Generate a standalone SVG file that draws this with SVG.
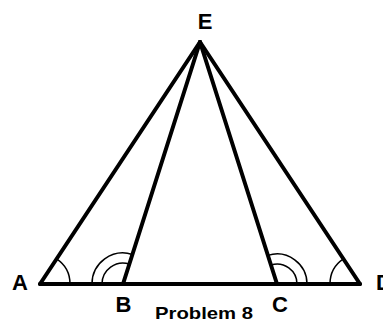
<svg xmlns="http://www.w3.org/2000/svg" width="383" height="322" viewBox="0 0 383 322">
<style>
.ln{stroke:#000;stroke-width:4;stroke-linecap:round;fill:none}
.arc{stroke:#000;stroke-width:1.5;fill:none}
.lbl{font-family:"Liberation Sans",Arial,sans-serif;font-weight:bold;font-size:22px;fill:#000;text-anchor:middle}
.cap{font-family:"Liberation Sans",Arial,sans-serif;font-weight:bold;font-size:17px;fill:#000}
</style>
<rect width="383" height="322" fill="#fff"/>
<g id="connectors">
<line class="ln" x1="40" y1="284" x2="360" y2="284"/>
<line class="ln" x1="200" y1="42" x2="40" y2="284"/>
<line class="ln" x1="200" y1="42" x2="123" y2="284"/>
<line class="ln" x1="200" y1="42" x2="277" y2="284"/>
<line class="ln" x1="200" y1="42" x2="360" y2="284"/>
</g>
<g id="angles">
<path class="arc" d="M70,284 A30,30 0 0 0 56.56,258.98"/>
<path class="arc" d="M129.37,263.99 A21,21 0 0 0 102,284"/>
<path class="arc" d="M132.40,254.46 A31,31 0 0 0 92,284"/>
<path class="arc" d="M297,284 A20,20 0 0 0 270.94,264.94"/>
<path class="arc" d="M307,284 A30,30 0 0 0 267.90,255.41"/>
<path class="arc" d="M343.44,258.98 A30,30 0 0 0 330,284"/>
</g>
<g id="node-A"><text class="lbl" x="20" y="290">A</text></g>
<g id="node-B"><text class="lbl" x="123.5" y="312">B</text></g>
<g id="node-C"><text class="lbl" x="280" y="312">C</text></g>
<g id="node-D"><text class="lbl" x="384" y="290">D</text></g>
<g id="node-E"><text class="lbl" x="205" y="29">E</text></g>
<g id="caption"><text class="cap" x="155" y="318.5" textLength="98" lengthAdjust="spacingAndGlyphs">Problem 8</text></g>
</svg>
